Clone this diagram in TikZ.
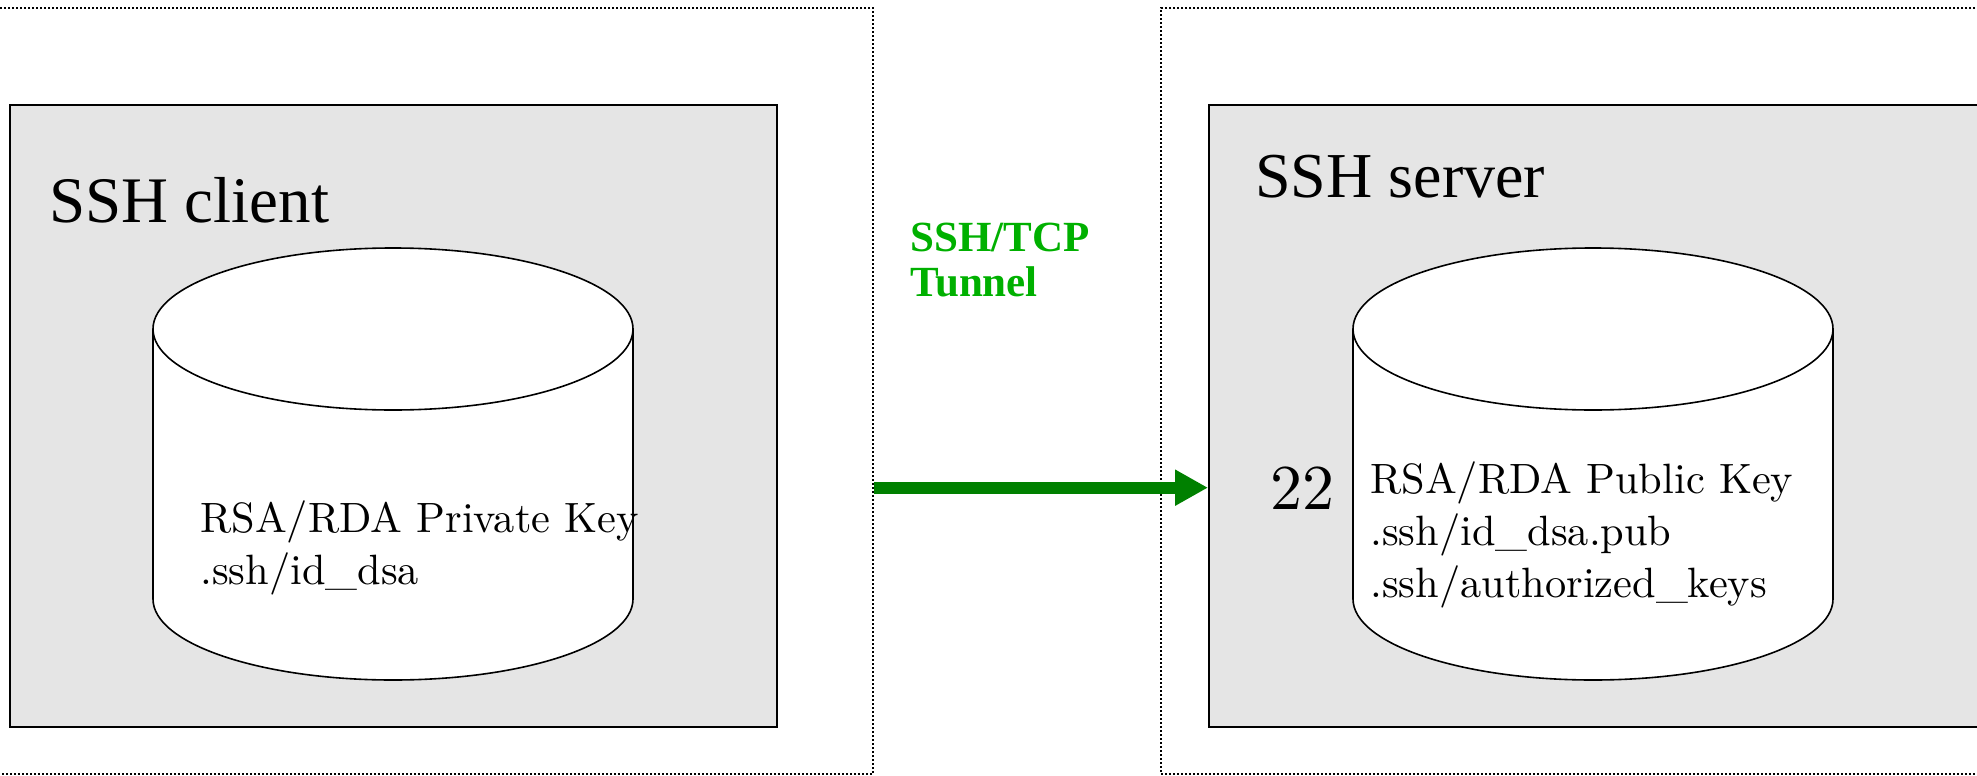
\documentclass[tikz,border=0pt]{standalone}
\usepackage{fontspec}
\usepackage{tikz}
\usetikzlibrary{arrows.meta}

\newfontfamily\timesfont{Liberation Serif}
\newfontfamily\cmfont[Extension=.otf]{lmroman10-regular}

\definecolor{boxgray}{RGB}{229,229,229}
\definecolor{tunnelgreen}{RGB}{0,128,0}
\definecolor{labelgreen}{RGB}{0,176,0}

\tikzset{
  hostbox/.style={draw, dash pattern=on 1pt off 1pt, line width=0.7pt, inner sep=0pt},
  appbox/.style={draw, fill=boxgray, line width=1pt, inner sep=0pt},
  keystore/.style={draw, fill=white, line width=0.8pt},
  txt/.style={inner sep=0pt, anchor=north west, align=left}
}

\begin{document}
\begin{tikzpicture}[x=0.5pt,y=0.5pt,yscale=-1,xscale=1]
\useasboundingbox (0,0) rectangle (1977,776);

%Shape: Rectangle [client host]
\node[hostbox, minimum width=437.5pt, minimum height=383pt] (clienthost) at (435.5,391) {};
%Shape: Rectangle [server host]
\node[hostbox, minimum width=412pt, minimum height=383pt] (serverhost) at (1573,391) {};

%Shape: Rectangle [client]
\node[appbox, minimum width=383.5pt, minimum height=311pt] (clientbox) at (393.5,416) {};
%Shape: Rectangle [server]
\node[appbox, minimum width=388pt, minimum height=311pt] (serverbox) at (1597,416) {};

%Shape: Can [private key store]
\draw[keystore] (153,329) -- (153,599) arc [start angle=180, end angle=0, x radius=240, y radius=81] -- (633,329) ;
\draw[keystore] (393,329) ellipse [x radius=240, y radius=81] ;
%Shape: Can [public key store]
\draw[keystore] (1353,329) -- (1353,599) arc [start angle=180, end angle=0, x radius=240, y radius=81] -- (1833,329) ;
\draw[keystore] (1593,329) ellipse [x radius=240, y radius=81] ;

% Text Node
\node[inner sep=0pt, anchor=base west, font=\timesfont\fontsize{32.5}{36}\selectfont] (clientname) at (49,222) {SSH client};
% Text Node
\node[inner sep=0pt, anchor=base west, font=\timesfont\fontsize{32}{36}\selectfont] (servername) at (1255,197) {SSH server};
% Text Node
\node[txt, text=labelgreen, font=\timesfont\bfseries\fontsize{21.5}{22.5}\selectfont] (tunnellabel) at (910,223) {SSH/TCP\\Tunnel};
% Text Node
\node[txt, font=\cmfont\fontsize{21.2}{26}\selectfont] (privkey) at (200,500) {RSA/RDA Private Key\\.ssh/id\_dsa};
% Text Node
\node[txt, font=\cmfont\fontsize{21.2}{26}\selectfont] (pubkey) at (1370,461) {RSA/RDA Public Key\\.ssh/id\_dsa.pub\\.ssh/authorized\_keys};
% Text Node
\node[inner sep=0pt, anchor=base west, font=\cmfont\fontsize{32}{36}\selectfont] (port) at (1270,509) {22};

%Straight Lines [tunnel]
\draw[tunnelgreen, line width=6pt, -{Triangle[length=16.5pt, width=17pt]}] (clienthost.east |- port) -- (serverbox.west |- port) ;

\end{tikzpicture}
\end{document}
